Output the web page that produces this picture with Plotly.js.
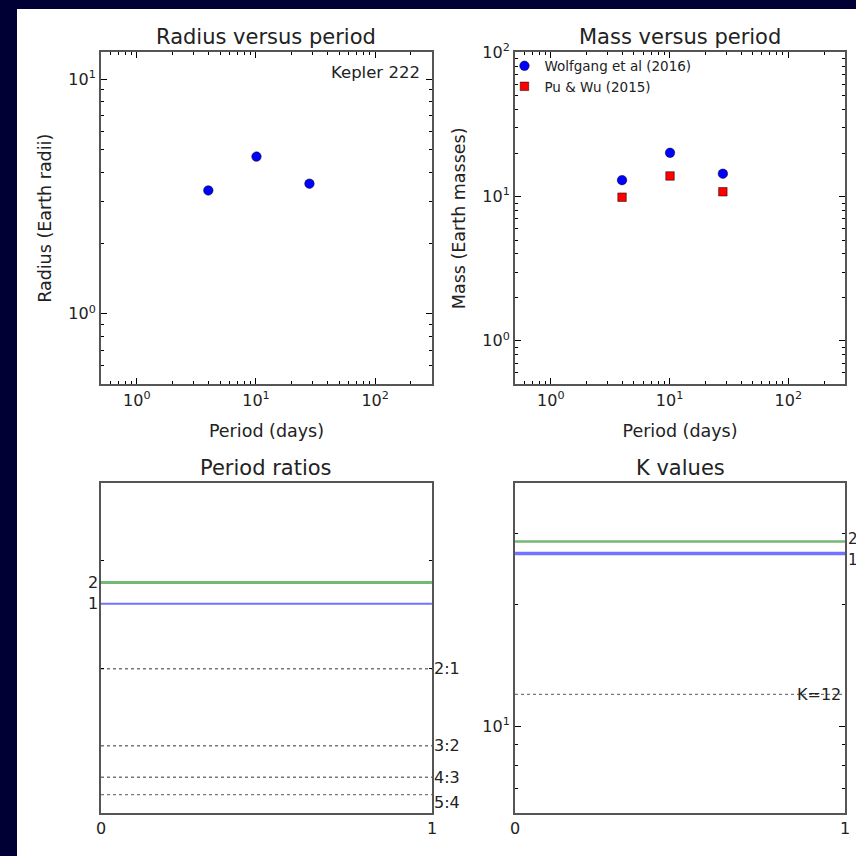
<!DOCTYPE html>
<html>
<head>
<meta charset="utf-8">
<script src="https://cdn.plot.ly/plotly-3.0.1.min.js"></script>
<style>
  html, body { margin: 0; padding: 0; background: #000035; width: 856px; height: 856px; overflow: hidden; }
  #chart { position: absolute; left: 17px; top: 9px; width: 839px; height: 847px; background: #ffffff; }
</style>
</head>
<body>
<div id="chart"></div>
<script>
// Kepler-222 planets b, c, d
const periods = [3.98, 10.09, 28.1];            // days
const radii = [3.35, 4.67, 3.58];               // Earth radii
const massWolfgang = [13.0, 20.1, 14.4];        // Earth masses, Wolfgang et al (2016)
const massPuWu = [9.9, 13.9, 10.8];             // Earth masses, Pu & Wu (2015)

// adjacent-pair period ratios and K (mutual Hill radii separations), pairs 1 and 2
const pairLabels = ['1', '2'];
const periodRatios = [2.55, 2.76];
const kValues = [26.8, 28.7];

// reference resonances and the K threshold
const resonanceLabels = ['2:1', '3:2', '4:3', '5:4'];
const resonanceValues = [2, 1.5, 4 / 3, 1.25];
const kThresholdLabel = 'K=12';
const kThreshold = 12;

// horizontal extent of the reference lines on the unit x axes
const lineSpan = [0, 1];

// log tick labels
const logTickVals = [1, 10, 100];
const logTickText = ['10<sup>0</sup>', '10<sup>1</sup>', '10<sup>2</sup>'];
const unitTickVals = [0, 1];
const unitTickText = ['0', '1'];

const FONT = 'DejaVu Sans, Verdana, sans-serif';
const TXT = '#222';
const pairColors = ['rgba(0,0,255,0.55)', 'rgba(0,128,0,0.55)'];
const titleFont = { family: FONT, size: 17.5, color: TXT };

function frame(extra) {
  return Object.assign({
    showline: true, linecolor: '#555', linewidth: 2, mirror: 'allticks',
    ticks: 'inside', ticklen: 6, tickwidth: 1, tickcolor: '#000',
    showgrid: false, zeroline: false,
    tickfont: { family: FONT, size: 16, color: TXT }
  }, extra);
}
function logAxis(range, extra) {
  return frame(Object.assign({
    type: 'log', range: range.map(Math.log10),
    tickmode: 'array', tickvals: logTickVals, ticktext: logTickText,
    minor: { ticks: 'inside', ticklen: 3, tickcolor: '#000', dtick: 'D1', showgrid: false }
  }, extra));
}

const traces = [];

// radius versus period
traces.push({
  x: periods, y: radii, xaxis: 'x', yaxis: 'y', mode: 'markers', showlegend: false,
  marker: { symbol: 'circle', size: 9.5, color: '#0000ff', line: { color: '#000', width: 0.5 } }
});

// mass versus period
traces.push({
  x: periods, y: massWolfgang, xaxis: 'x2', yaxis: 'y2', mode: 'markers',
  name: 'Wolfgang et al (2016)',
  marker: { symbol: 'circle', size: 9.5, color: '#0000ff', line: { color: '#000', width: 0.5 } }
});
traces.push({
  x: periods, y: massPuWu, xaxis: 'x2', yaxis: 'y2', mode: 'markers',
  name: 'Pu & Wu (2015)',
  marker: { symbol: 'square', size: 8.5, color: '#ff0000', line: { color: '#000', width: 0.5 } }
});

// period ratios: resonances (dotted) and the two adjacent pairs
resonanceValues.forEach(v => traces.push({
  x: lineSpan, y: [v, v], xaxis: 'x3', yaxis: 'y3', mode: 'lines', showlegend: false,
  line: { color: '#777', width: 1.4, dash: 'dot' }
}));
periodRatios.forEach((v, i) => traces.push({
  x: lineSpan, y: [v, v], xaxis: 'x3', yaxis: 'y3', mode: 'lines', showlegend: false,
  line: { color: pairColors[i], width: i === 0 ? 2 : 3 }
}));

// K values: threshold (dotted) and the two adjacent pairs
traces.push({
  x: lineSpan, y: [kThreshold, kThreshold], xaxis: 'x4', yaxis: 'y4', mode: 'lines', showlegend: false,
  line: { color: '#777', width: 1.4, dash: 'dot' }
});
kValues.forEach((v, i) => traces.push({
  x: lineSpan, y: [v, v], xaxis: 'x4', yaxis: 'y4', mode: 'lines', showlegend: false,
  line: { color: pairColors[i], width: i === 0 ? 3.5 : 2.5 }
}));

const annotations = [];
function panelTitle(text, ax) {
  annotations.push({
    text, xref: ax.x + ' domain', yref: ax.y + ' domain', x: 0.5, y: 1,
    xanchor: 'center', yanchor: 'middle', yshift: 15, showarrow: false,
    font: { family: FONT, size: 21, color: TXT }
  });
}
panelTitle('Radius versus period', { x: 'x', y: 'y' });
panelTitle('Mass versus period', { x: 'x2', y: 'y2' });
panelTitle('Period ratios', { x: 'x3', y: 'y3' });
panelTitle('K values', { x: 'x4', y: 'y4' });

annotations.push({
  text: 'Kepler 222', xref: 'x domain', yref: 'y domain', x: 1, y: 1,
  xanchor: 'right', yanchor: 'middle', xshift: -10, yshift: -20, showarrow: false,
  font: { family: FONT, size: 16.5, color: TXT }
});

// resonance labels sit just right of the panel; the last one hangs a little below its line
resonanceLabels.forEach((t, i) => annotations.push({
  text: t, xref: 'x3', yref: 'y3', x: lineSpan[1], y: Math.log10(resonanceValues[i]),
  xanchor: 'left', yanchor: 'middle', xshift: 0, yshift: i === resonanceLabels.length - 1 ? -8 : 0,
  showarrow: false, font: { family: FONT, size: 16, color: TXT }
}));
pairLabels.forEach((t, i) => annotations.push({
  text: t, xref: 'x3', yref: 'y3', x: lineSpan[0], y: Math.log10(periodRatios[i]),
  xanchor: 'right', yanchor: 'middle', xshift: -1, showarrow: false,
  font: { family: FONT, size: 16, color: TXT }
}));
// pair labels on the right edge of the K panel, spread apart so they do not collide
pairLabels.forEach((t, i) => annotations.push({
  text: t, xref: 'x4', yref: 'y4', x: lineSpan[1], y: Math.log10(kValues[i]),
  xanchor: 'left', yanchor: 'middle', xshift: 1, yshift: i === 0 ? -6 : 3, showarrow: false,
  font: { family: FONT, size: 15, color: TXT }
}));
annotations.push({
  text: kThresholdLabel, xref: 'x4', yref: 'y4', x: lineSpan[1], y: Math.log10(kThreshold),
  xanchor: 'right', yanchor: 'middle', xshift: -2, showarrow: false,
  font: { family: FONT, size: 16, color: TXT }
});

const layout = {
  width: 839, height: 847,
  margin: { l: 0, r: 0, t: 0, b: 0 },
  paper_bgcolor: '#ffffff', plot_bgcolor: '#ffffff',
  xaxis: logAxis([0.5, 300], { domain: [0.1001, 0.4946], anchor: 'y', title: { text: 'Period (days)', font: titleFont, standoff: 16 } }),
  yaxis: logAxis([0.5, 13], { domain: [0.5569, 0.9489], anchor: 'x', title: { text: 'Radius (Earth radii)', font: titleFont, standoff: 12 } }),
  xaxis2: logAxis([0.5, 300], { domain: [0.5936, 0.9869], anchor: 'y2', title: { text: 'Period (days)', font: titleFont, standoff: 16 } }),
  yaxis2: logAxis([0.5, 100], { domain: [0.5569, 0.9489], anchor: 'x2', title: { text: 'Mass (Earth masses)', font: titleFont, standoff: 12 } }),
  xaxis3: frame({ range: [0, 1], domain: [0.1001, 0.4946], anchor: 'y3', tickmode: 'array', tickvals: unitTickVals, ticktext: unitTickText }),
  yaxis3: logAxis([1.167, 4], { domain: [0.0508, 0.44], anchor: 'x3', showticklabels: false }),
  xaxis4: frame({ range: [0, 1], domain: [0.5936, 0.9869], anchor: 'y4', tickmode: 'array', tickvals: unitTickVals, ticktext: unitTickText }),
  yaxis4: logAxis([6.1, 40], { domain: [0.0508, 0.44], anchor: 'x4' }),
  legend: {
    x: 0.581, y: 0.951, xanchor: 'left', yanchor: 'top',
    bgcolor: 'rgba(0,0,0,0)', borderwidth: 0, tracegroupgap: 0,
    font: { family: FONT, size: 13.5, color: TXT }
  },
  annotations
};

Plotly.newPlot('chart', traces, layout, { staticPlot: true, displayModeBar: false });
</script>
</body>
</html>
